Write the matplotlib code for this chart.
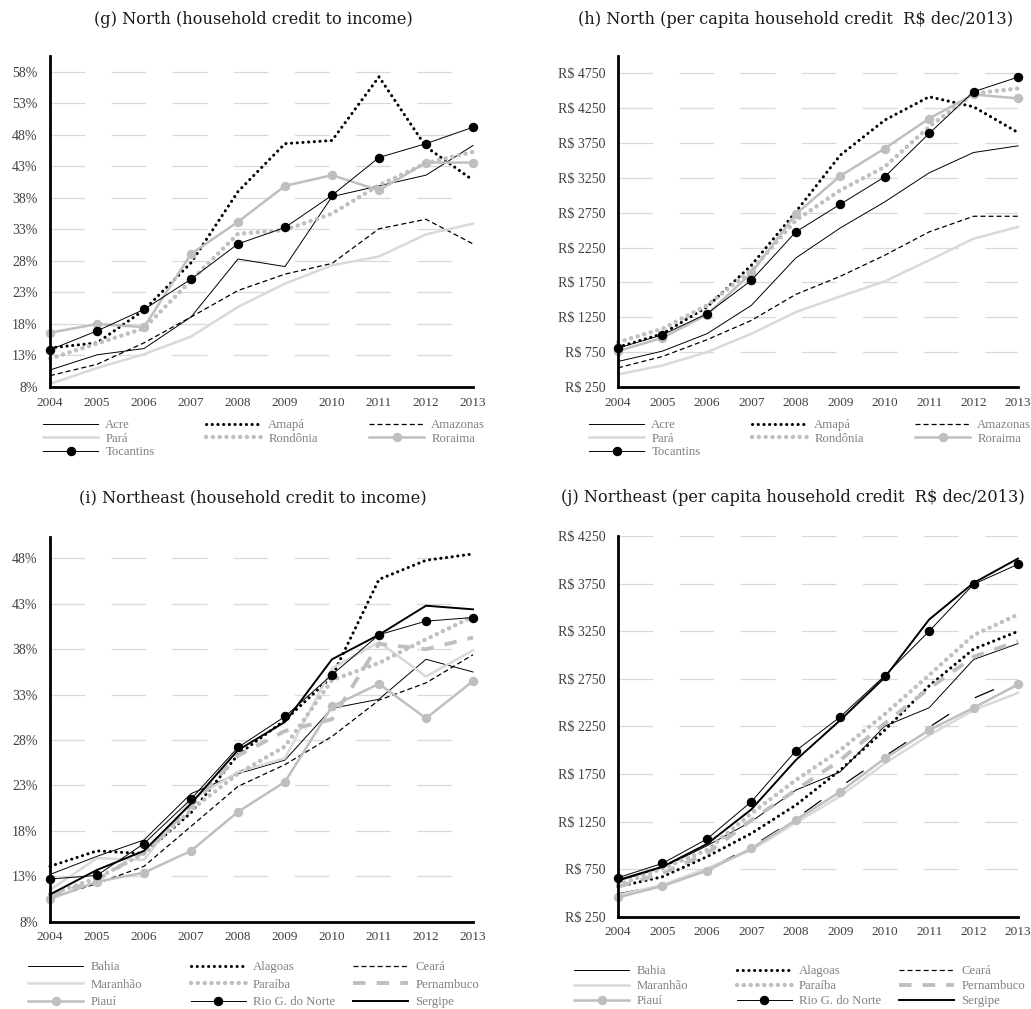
import matplotlib
matplotlib.use('Agg')
import matplotlib.pyplot as plt
from matplotlib.lines import Line2D

plt.rcParams['lines.scale_dashes'] = False

W, H = 1031, 1009

years = list(range(2004, 2014))

# (g) North - household credit to income (%)
g_acre = [10.7, 13.1, 14.1, 19.1, 28.3, 27.1, 38.2, 39.9, 41.6, 46.3]
g_amapa = [14.2, 15.0, 20.2, 27.7, 39.0, 46.6, 47.1, 57.2, 46.1, 40.8]
g_amazonas = [9.8, 11.6, 15.0, 19.1, 23.3, 25.9, 27.6, 33.1, 34.6, 30.7]
g_para = [8.5, 11.0, 13.2, 16.0, 20.7, 24.4, 27.3, 28.7, 32.2, 33.9]
g_rondonia = [12.5, 14.9, 17.3, 24.9, 32.3, 32.9, 35.5, 40.0, 43.5, 45.3]
g_roraima = [16.6, 18.0, 17.5, 29.1, 34.2, 39.9, 41.6, 39.2, 43.6, 43.6]
g_tocantins = [13.9, 16.9, 20.3, 25.1, 30.7, 33.3, 38.4, 44.4, 46.6, 49.2]

# (h) North - per capita household credit (R$ dec/2013)
h_acre = [616, 765, 1014, 1421, 2101, 2532, 2906, 3323, 3615, 3711]
h_amapa = [822, 1014, 1397, 1996, 2762, 3576, 4079, 4415, 4271, 3902]
h_amazonas = [525, 688, 928, 1205, 1579, 1838, 2140, 2475, 2700, 2700]
h_para = [430, 559, 750, 1014, 1325, 1550, 1766, 2068, 2379, 2547]
h_rondonia = [894, 1086, 1421, 1924, 2642, 3073, 3409, 3984, 4463, 4534]
h_roraima = [765, 956, 1287, 1886, 2729, 3279, 3672, 4103, 4448, 4391]
h_tocantins = [808, 999, 1301, 1780, 2475, 2872, 3265, 3888, 4487, 4697]

# (i) Northeast - household credit to income (%)
i_bahia = [13.2, 15.2, 17.0, 22.1, 24.3, 25.8, 31.5, 32.5, 36.9, 35.5]
i_alagoas = [14.1, 15.8, 15.5, 20.0, 26.4, 30.2, 35.0, 45.7, 47.8, 48.5]
i_ceara = [10.6, 12.2, 14.1, 18.5, 22.9, 25.3, 28.4, 32.4, 34.3, 37.4]
i_maranhao = [11.5, 15.0, 14.8, 21.4, 24.5, 26.0, 35.9, 38.8, 35.0, 37.9]
i_paraiba = [11.0, 12.8, 15.5, 20.3, 24.3, 27.3, 34.6, 36.5, 39.1, 41.6]
i_pernambuco = [10.8, 12.6, 15.7, 20.7, 26.3, 29.0, 30.3, 38.6, 38.0, 39.3]
i_piaui = [10.5, 12.4, 13.4, 15.8, 20.1, 23.4, 31.7, 34.2, 30.4, 34.5]
i_rgn = [12.7, 13.1, 16.6, 21.5, 27.2, 30.6, 35.2, 39.6, 41.1, 41.5]
i_sergipe = [11.0, 13.7, 15.8, 21.0, 26.9, 30.0, 36.9, 39.6, 42.8, 42.4]

# (j) Northeast - per capita household credit (R$ dec/2013)
j_bahia = [625, 765, 995, 1250, 1580, 1772, 2252, 2445, 2952, 3120]
j_alagoas = [565, 670, 880, 1125, 1422, 1790, 2210, 2675, 3062, 3248]
j_ceara = [490, 580, 745, 985, 1280, 1615, 1935, 2240, 2545, 2745]
j_maranhao = [478, 583, 757, 950, 1237, 1517, 1860, 2157, 2420, 2602]
j_paraiba = [583, 757, 950, 1335, 1685, 2000, 2378, 2788, 3208, 3425]
j_pernambuco = [565, 705, 915, 1265, 1580, 1895, 2280, 2648, 2980, 3145]
j_piaui = [453, 572, 733, 967, 1265, 1563, 1913, 2210, 2445, 2690]
j_rgn = [660, 810, 1066, 1458, 1993, 2350, 2781, 3250, 3743, 3953]
j_sergipe = [635, 775, 1013, 1377, 1895, 2315, 2763, 3372, 3757, 4013]

north_names = ['Acre', 'Amapá', 'Amazonas', 'Pará', 'Rondônia', 'Roraima', 'Tocantins']
ne_names = ['Bahia', 'Alagoas', 'Ceará', 'Maranhão', 'Paraíba', 'Pernambuco',
            'Piauí', 'Rio G. do Norte', 'Sergipe']

titles = ['(g) North (household credit to income)',
          '(h) North (per capita household credit  R$ dec/2013)',
          '(i) Northeast (household credit to income)',
          '(j) Northeast (per capita household credit  R$ dec/2013)']

# line styles
thin = dict(color='black', lw=0.7, ls='-')
dot_blk = dict(color='black', lw=2.2, ls=(0, (0.1, 4.0)), dash_capstyle='round')
dash_blk = dict(color='black', lw=0.9, ls=(0, (3.6, 2.2)))
light = dict(color='#d9d9d9', lw=1.8, ls='-')
dot_gry = dict(color='#c0c0c0', lw=3.2, ls=(0, (0.1, 4.8)), dash_capstyle='round')
mk_gry = dict(color='#bfbfbf', lw=1.8, ls='-', marker='o', ms=5.8)
mk_blk = dict(color='black', lw=0.7, ls='-', marker='o', ms=5.8)
long_gry = dict(color='#bfbfbf', lw=2.8, ls=(0, (9, 8)))
sergipe = dict(color='black', lw=1.4, ls='-')

north_styles = [thin, dot_blk, dash_blk, light, dot_gry, mk_gry, mk_blk]
ne_styles = [thin, dot_blk, dash_blk, light, dot_gry, long_gry, mk_gry, mk_blk, sergipe]

fig = plt.figure(figsize=(W / 100, H / 100), dpi=100)


def make_ax(left, right, bottom, top):
    return fig.add_axes([left / W, 1 - bottom / H, (right - left) / W, (bottom - top) / H])


def style_ax(ax, ticks, ylim, fmt):
    ax.set_xlim(2004, 2013)
    ax.set_ylim(*ylim)
    ax.set_xticks(years)
    ax.set_xticklabels([str(y) for y in years], fontsize=9.5, color='#404040',
                       family='Liberation Serif')
    ax.set_yticks(ticks)
    ax.set_yticklabels([fmt(t) for t in ticks], fontsize=10, color='#404040',
                       family='Liberation Serif')
    ax.tick_params(length=0)
    ax.tick_params(axis='y', pad=9)
    ax.tick_params(axis='x', pad=7)
    ax.grid(axis='y', color='#d9d9d9', lw=0.9, ls=(0, (25, 19)))
    ax.set_axisbelow(True)
    for s in ['top', 'right']:
        ax.spines[s].set_visible(False)
    for s in ['left', 'bottom']:
        ax.spines[s].set_linewidth(2.0)
        ax.spines[s].set_color('black')
        ax.spines[s].set_zorder(5)


def draw(ax, series, styles):
    for vals, st in zip(series, styles):
        ax.plot(years, vals, clip_on=False, **st)


def add_legend(names, styles, x0, y0, pitch, spacing):
    # one legend per column, fixed column pitch like the original
    for c in range(3):
        idx = list(range(c, len(names), 3))
        handles = [Line2D([], [], **styles[k]) for k in idx]
        labels = [names[k] for k in idx]
        leg = fig.legend(handles, labels, loc='upper left',
                         bbox_to_anchor=((x0 + c * pitch) / W, 1 - y0 / H),
                         ncol=1, frameon=False, borderpad=0, handlelength=4.3,
                         handletextpad=0.55, labelspacing=spacing,
                         prop={'family': 'Liberation Serif', 'size': 9.2})
        for t in leg.get_texts():
            t.set_color('#808080')


pct = lambda v: f'{v:.0f}%'
rs = lambda v: f'R$ {v:.0f}'

# (g)
axg = make_ax(50, 473, 387, 56)
draw(axg, [g_acre, g_amapa, g_amazonas, g_para, g_rondonia, g_roraima, g_tocantins],
     north_styles)
style_ax(axg, list(range(8, 59, 5)), (8, 60.5), pct)

# (h)
axh = make_ax(618, 1018, 387, 56)
draw(axh, [h_acre, h_amapa, h_amazonas, h_para, h_rondonia, h_roraima, h_tocantins],
     north_styles)
style_ax(axh, list(range(250, 4751, 500)), (250, 5000), rs)

# (i)
axi = make_ax(50, 473, 921.7, 536.7)
draw(axi, [i_bahia, i_alagoas, i_ceara, i_maranhao, i_paraiba, i_pernambuco,
           i_piaui, i_rgn, i_sergipe], ne_styles)
style_ax(axi, list(range(8, 49, 5)), (8, 50.4), pct)

# (j) - Ceará drawn with longer dashes in this panel
j_styles = list(ne_styles)
j_styles[2] = dict(color='black', lw=0.9, ls=(0, (15, 22)))
axj = make_ax(618, 1018, 916.7, 536)
draw(axj, [j_bahia, j_alagoas, j_ceara, j_maranhao, j_paraiba, j_pernambuco,
           j_piaui, j_rgn, j_sergipe], j_styles)
style_ax(axj, list(range(250, 4251, 500)), (250, 4250), rs)

# titles
title_pos = [(253, 19), (796, 19), (253, 498), (793, 498)]
for (tx, ty), t in zip(title_pos, titles):
    fig.text(tx / W, 1 - ty / H, t, ha='center', va='center', fontsize=11.7,
             family='DejaVu Serif', color='#1a1a1a')

# legends (row-major over 3 fixed-width columns)
add_legend(north_names, north_styles, 37, 413, 163, 0.12)
add_legend(north_names, north_styles, 583, 413, 163, 0.12)
add_legend(ne_names, ne_styles, 22, 955, 162.5, 0.42)
add_legend(ne_names, ne_styles, 568, 959, 162.5, 0.22)

fig.savefig('out.png', dpi=100)
